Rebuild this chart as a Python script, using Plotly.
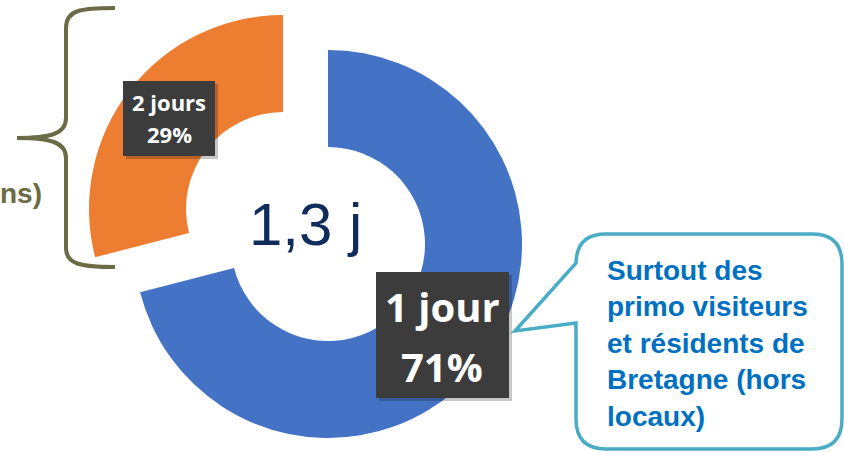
import plotly.graph_objects as go

W, H = 844, 452

# data
categories = ["1 jour", "2 jours"]
shares = [71, 29]
pct_labels = ["71%", "29%"]
mean_stay = "1,3 j"
callout_lines = ["Surtout des", "primo visiteurs", "et résidents de", "Bretagne (hors", "locaux)"]
brace_text = "ns)"

BLUE = "#4472C4"
ORANGE = "#ED7D31"
CLEAR = "rgba(0,0,0,0)"
OLIVE = "#6B6B46"
NAVY = "#0F2D5C"
CALL_BORDER = "#4BACC6"
CALL_TEXT = "#0070C0"
BOX = "#3C3C3C"


def px(x):
    return x / W


def py(y):
    return 1 - y / H


def dom(cx, cy, r):
    return dict(x=[px(cx - r), px(cx + r)], y=[py(cy + r), py(cy - r)])


R = 194
fig = go.Figure()
# blue slice (not pulled)
fig.add_trace(go.Pie(
    labels=categories, values=shares, sort=False, direction="clockwise", rotation=0,
    hole=0.5, marker=dict(colors=[BLUE, CLEAR], line=dict(width=0)),
    textinfo="none", hoverinfo="label+percent", showlegend=False,
    domain=dom(328, 244, R),
))
# orange slice (exploded)
fig.add_trace(go.Pie(
    labels=categories, values=shares, sort=False, direction="clockwise", rotation=0,
    hole=0.5, marker=dict(colors=[CLEAR, ORANGE], line=dict(width=0)),
    textinfo="none", hoverinfo="label+percent", showlegend=False,
    domain=dom(283, 209, R),
))


def P(x, y):
    return f"{px(x):.5f},{py(y):.5f}"


shapes = []
# brace
brace = (f"M {P(115, 8)} C {P(80, 8)} {P(66, 10)} {P(66, 28)} "
         f"L {P(66, 118)} C {P(66, 134)} {P(50, 138)} {P(17, 138)} "
         f"C {P(50, 138)} {P(66, 142)} {P(66, 158)} "
         f"L {P(66, 248)} C {P(66, 264)} {P(80, 267)} {P(115, 267)}")
shapes.append(dict(type="path", xref="paper", yref="paper", path=brace,
                   line=dict(color=OLIVE, width=4), fillcolor=CLEAR))

# callout bubble
x0, x1, y0, y1, rr = 576, 842, 234, 449, 30
bubble = (f"M {P(x0 + rr, y0)} L {P(x1 - rr, y0)} Q {P(x1, y0)} {P(x1, y0 + rr)} "
          f"L {P(x1, y1 - rr)} Q {P(x1, y1)} {P(x1 - rr, y1)} "
          f"L {P(x0 + rr, y1)} Q {P(x0, y1)} {P(x0, y1 - rr)} "
          f"L {P(x0, 323)} L {P(515, 331)} L {P(x0, 263)} "
          f"L {P(x0, y0 + rr)} Q {P(x0, y0)} {P(x0 + rr, y0)} Z")
shapes.append(dict(type="path", xref="paper", yref="paper", path=bubble,
                   line=dict(color=CALL_BORDER, width=3.5), fillcolor="white"))

# label boxes with shadow
for (bx0, by0, bx1, by1) in [(123, 81, 215, 156), (376, 272, 509, 398)]:
    shapes.append(dict(type="rect", xref="paper", yref="paper",
                       x0=px(bx0 + 3), x1=px(bx1 + 3), y0=py(by1 + 3), y1=py(by0 + 3),
                       line=dict(width=0), fillcolor="rgba(0,0,0,0.22)"))
    shapes.append(dict(type="rect", xref="paper", yref="paper",
                       x0=px(bx0), x1=px(bx1), y0=py(by1), y1=py(by0),
                       line=dict(width=0), fillcolor=BOX))

ann = []


def text(x, y, s, size, color, family, xanchor="center", bold=False):
    ann.append(dict(x=px(x), y=py(y), xref="paper", yref="paper", showarrow=False,
                    text=f"<b>{s}</b>" if bold else s, xanchor=xanchor, yanchor="middle",
                    font=dict(size=size, color=color, family=family), align="left"))


LAB = "Open Sans"
# 2 jours box
text(169, 102, categories[1], 22, "white", LAB, bold=True)
text(169, 134, pct_labels[1], 22, "white", LAB, bold=True)
# 1 jour box
text(442, 306, categories[0], 40, "white", LAB, bold=True)
text(442, 366, pct_labels[0], 40, "white", LAB, bold=True)

# center value
text(305, 224, mean_stay, 60, NAVY, "Liberation Sans, Arial")

# left partial text
text(44, 193, brace_text, 28, OLIVE, "Liberation Sans, Arial", xanchor="right", bold=True)

# callout text
ann.append(dict(x=px(605), y=py(343), xref="paper", yref="paper", showarrow=False,
                text="<b>" + "<br>".join(callout_lines) + "</b>", xanchor="left", yanchor="middle",
                align="left", font=dict(size=28, color=CALL_TEXT, family="Liberation Sans, Arial")))

fig.update_layout(
    width=W, height=H, margin=dict(l=0, r=0, t=0, b=0),
    paper_bgcolor="white", plot_bgcolor="white",
    shapes=shapes, annotations=ann, showlegend=False,
)
fig.write_html("out.html", config=dict(displayModeBar=False),
               post_script="document.body.style.margin='0';document.body.style.overflow='hidden';")
